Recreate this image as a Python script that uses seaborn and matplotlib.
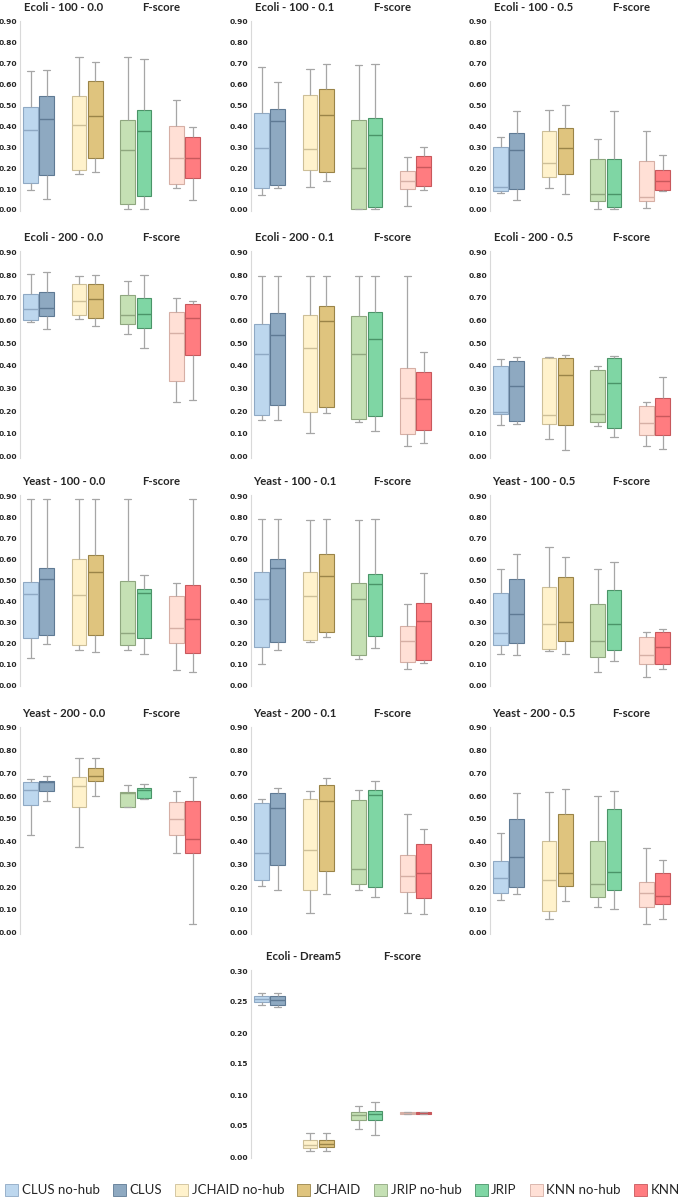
import numpy as np
import pandas as pd
import matplotlib
matplotlib.use("Agg")
import matplotlib.pyplot as plt
import seaborn as sns
from matplotlib.patches import Patch

# ---------------- data: five-number summaries [min, q1, median, q3, max] ----------------
methods = ["CLUS no-hub", "CLUS", "JCHAID no-hub", "JCHAID",
           "JRIP no-hub", "JRIP", "KNN no-hub", "KNN"]

ecoli_100_00 = [[0.095, 0.13, 0.38, 0.49, 0.665], [0.053, 0.165, 0.435, 0.545, 0.67],
                [0.173, 0.19, 0.404, 0.545, 0.73], [0.183, 0.247, 0.45, 0.618, 0.709],
                [0.005, 0.03, 0.285, 0.43, 0.73], [0.005, 0.068, 0.376, 0.476, 0.723],
                [0.103, 0.125, 0.247, 0.403, 0.525], [0.048, 0.154, 0.247, 0.347, 0.398]]
ecoli_100_01 = [[0.07, 0.106, 0.294, 0.465, 0.682], [0.103, 0.118, 0.427, 0.484, 0.61],
                [0.11, 0.19, 0.29, 0.551, 0.672], [0.137, 0.18, 0.452, 0.58, 0.70],
                [0.003, 0.004, 0.203, 0.428, 0.691], [0.004, 0.016, 0.357, 0.441, 0.70],
                [0.019, 0.10, 0.137, 0.185, 0.255], [0.094, 0.113, 0.207, 0.26, 0.30]]
ecoli_100_05 = [[0.08, 0.09, 0.108, 0.30, 0.347], [0.048, 0.10, 0.285, 0.366, 0.471],
                [0.106, 0.156, 0.227, 0.379, 0.48], [0.075, 0.172, 0.294, 0.392, 0.50],
                [0.005, 0.043, 0.075, 0.242, 0.339], [0.005, 0.016, 0.075, 0.245, 0.475],
                [0.01, 0.043, 0.062, 0.235, 0.376], [0.09, 0.095, 0.137, 0.19, 0.261]]
ecoli_200_00 = [[0.593, 0.602, 0.649, 0.718, 0.803], [0.561, 0.62, 0.653, 0.727, 0.815],
                [0.606, 0.624, 0.686, 0.759, 0.794], [0.576, 0.609, 0.695, 0.759, 0.799],
                [0.54, 0.584, 0.624, 0.711, 0.775], [0.48, 0.565, 0.627, 0.699, 0.802],
                [0.239, 0.332, 0.543, 0.639, 0.70], [0.25, 0.448, 0.612, 0.671, 0.686]]
ecoli_200_01 = [[0.16, 0.182, 0.451, 0.586, 0.796], [0.16, 0.228, 0.535, 0.631, 0.796],
                [0.103, 0.195, 0.477, 0.623, 0.796], [0.191, 0.217, 0.596, 0.662, 0.796],
                [0.153, 0.164, 0.451, 0.621, 0.796], [0.113, 0.179, 0.518, 0.639, 0.796],
                [0.048, 0.10, 0.257, 0.391, 0.796], [0.059, 0.116, 0.256, 0.372, 0.461]]
ecoli_200_05 = [[0.14, 0.186, 0.198, 0.401, 0.432], [0.142, 0.159, 0.31, 0.423, 0.44],
                [0.076, 0.142, 0.182, 0.435, 0.438], [0.028, 0.138, 0.358, 0.433, 0.449],
                [0.135, 0.151, 0.186, 0.383, 0.401], [0.088, 0.125, 0.326, 0.436, 0.443],
                [0.047, 0.095, 0.147, 0.225, 0.242], [0.032, 0.094, 0.179, 0.257, 0.349]]
yeast_100_00 = [[0.129, 0.224, 0.433, 0.494, 0.889], [0.195, 0.238, 0.506, 0.559, 0.889],
                [0.167, 0.194, 0.43, 0.60, 0.889], [0.157, 0.24, 0.538, 0.622, 0.889],
                [0.167, 0.194, 0.248, 0.498, 0.889], [0.151, 0.224, 0.44, 0.46, 0.524],
                [0.075, 0.20, 0.273, 0.424, 0.486], [0.062, 0.152, 0.314, 0.476, 0.889]]
yeast_100_01 = [[0.10, 0.184, 0.41, 0.541, 0.794], [0.167, 0.208, 0.557, 0.60, 0.794],
                [0.206, 0.216, 0.425, 0.541, 0.787], [0.229, 0.254, 0.519, 0.627, 0.794],
                [0.124, 0.144, 0.413, 0.489, 0.787], [0.179, 0.235, 0.481, 0.529, 0.794],
                [0.079, 0.111, 0.21, 0.284, 0.389], [0.106, 0.122, 0.308, 0.39, 0.533]]
yeast_100_05 = [[0.151, 0.194, 0.248, 0.441, 0.556], [0.146, 0.20, 0.338, 0.505, 0.624],
                [0.165, 0.175, 0.292, 0.47, 0.657], [0.148, 0.213, 0.303, 0.514, 0.611],
                [0.062, 0.137, 0.21, 0.387, 0.556], [0.116, 0.167, 0.29, 0.456, 0.587],
                [0.038, 0.10, 0.144, 0.232, 0.252], [0.076, 0.103, 0.181, 0.254, 0.27]]
yeast_200_00 = [[0.428, 0.562, 0.625, 0.66, 0.675], [0.578, 0.624, 0.66, 0.668, 0.69],
                [0.378, 0.553, 0.644, 0.684, 0.766], [0.602, 0.668, 0.69, 0.722, 0.766],
                [0.552, 0.552, 0.612, 0.619, 0.65], [0.589, 0.593, 0.625, 0.634, 0.654],
                [0.35, 0.428, 0.499, 0.572, 0.624], [0.037, 0.35, 0.413, 0.577, 0.682]]
yeast_200_01 = [[0.204, 0.23, 0.35, 0.57, 0.589], [0.186, 0.296, 0.548, 0.615, 0.634],
                [0.086, 0.189, 0.365, 0.587, 0.621], [0.168, 0.271, 0.58, 0.649, 0.678],
                [0.186, 0.215, 0.278, 0.584, 0.628], [0.155, 0.199, 0.603, 0.625, 0.668],
                [0.085, 0.177, 0.25, 0.343, 0.523], [0.08, 0.151, 0.261, 0.388, 0.457]]
yeast_200_05 = [[0.143, 0.176, 0.239, 0.313, 0.439], [0.171, 0.202, 0.331, 0.499, 0.612],
                [0.06, 0.097, 0.23, 0.404, 0.619], [0.141, 0.206, 0.261, 0.523, 0.63],
                [0.111, 0.158, 0.214, 0.404, 0.602], [0.102, 0.187, 0.266, 0.545, 0.621],
                [0.04, 0.113, 0.176, 0.224, 0.37], [0.059, 0.126, 0.163, 0.264, 0.321]]
ecoli_dream5 = [[0.245, 0.250, 0.255, 0.260, 0.265], [0.242, 0.245, 0.253, 0.260, 0.265],
                [0.010, 0.014, 0.020, 0.028, 0.038], [0.010, 0.016, 0.021, 0.028, 0.038],
                [0.045, 0.060, 0.068, 0.073, 0.082], [0.035, 0.060, 0.069, 0.075, 0.088],
                [0.069, 0.070, 0.071, 0.072, 0.073], [0.069, 0.070, 0.071, 0.072, 0.073]]

grid_titles = [["Ecoli - 100 - 0.0", "Ecoli - 100 - 0.1", "Ecoli - 100 - 0.5"],
               ["Ecoli - 200 - 0.0", "Ecoli - 200 - 0.1", "Ecoli - 200 - 0.5"],
               ["Yeast - 100 - 0.0", "Yeast - 100 - 0.1", "Yeast - 100 - 0.5"],
               ["Yeast - 200 - 0.0", "Yeast - 200 - 0.1", "Yeast - 200 - 0.5"]]
grid_data = [[ecoli_100_00, ecoli_100_01, ecoli_100_05],
             [ecoli_200_00, ecoli_200_01, ecoli_200_05],
             [yeast_100_00, yeast_100_01, yeast_100_05],
             [yeast_200_00, yeast_200_01, yeast_200_05]]
dream_title = "Ecoli - Dream5"
metric_label = "F-score"

# ---------------- style ----------------
face_colors = ["#BDD7EE", "#8EA9C1", "#FFF2CC", "#DFC47E",
               "#C5E0B4", "#7FD6A4", "#FFE0D6", "#FF7C80"]
edge_colors = ["#8FA9C4", "#5F7A94", "#CDBF98", "#9A8448",
               "#8FA77F", "#4A9468", "#D6AFA5", "#C8585C"]
whisker_color = "#A6A6A6"
spine_color = "#D9D9D9"

slot_order = ["CLUS no-hub", "CLUS", " ", "JCHAID no-hub", "JCHAID", "  ",
              "JRIP no-hub", "JRIP", "   ", "KNN no-hub", "KNN"]

W, H = 685, 1199
fig = plt.figure(figsize=(W / 100, H / 100), dpi=100)
sns.set_style("white")

COL_LEFT = [20, 251, 490]
ROW_Y = [(21.7, 210.0), (252.3, 456.7), (496.3, 685.3), (727.7, 932.7)]
DREAM_LEFT, DREAM_Y = 251, (971.0, 1157.0)
UNIT_PX = 16.2
XLIM = (-0.65, 10.6)
AX_W = (XLIM[1] - XLIM[0]) * UNIT_PX


def make_axes(left_px, ytop_px, ybot_px, vmin, vmax, pad):
    ppu = (ybot_px - ytop_px) / (vmax - vmin)
    top_px = ytop_px - pad * ppu
    bot_px = ybot_px + pad * ppu
    ax = fig.add_axes([left_px / W, 1 - bot_px / H, AX_W / W, (bot_px - top_px) / H])
    ax.set_ylim(vmin - pad, vmax + pad)
    return ax


def draw_panel(ax, summaries, title, vmax, step, title_x=(0.24, 0.775)):
    df = pd.DataFrame([(m, v) for m, five in zip(methods, summaries) for v in five],
                      columns=["method", "value"])
    for m, fc, ec in zip(methods, face_colors, edge_colors):
        sns.boxplot(data=df[df["method"] == m], x="method", y="value", order=slot_order,
                    color=fc, linecolor=ec, saturation=1, width=0.9, whis=(0, 100),
                    linewidth=0.8,
                    whiskerprops=dict(color=whisker_color, linewidth=0.9),
                    capprops=dict(color=whisker_color, linewidth=0.9),
                    medianprops=dict(color=ec, linewidth=1.0),
                    ax=ax)
    ax.set_xlim(*XLIM)
    ticks = np.round(np.arange(0, vmax + step / 2, step), 2)
    ax.set_yticks(ticks)
    ax.set_yticklabels([f"{t:.2f}" for t in ticks], fontsize=5.4, fontweight="bold",
                       family="DejaVu Sans")
    ax.tick_params(axis="y", length=0, pad=2.2)
    ax.set_xticks([])
    ax.set_xlabel("")
    ax.set_ylabel("")
    for s in ["top", "right", "bottom"]:
        ax.spines[s].set_visible(False)
    ax.spines["left"].set_color(spine_color)
    ax.spines["left"].set_linewidth(0.8)
    for txt, xf in [(title, title_x[0]), (metric_label, title_x[1])]:
        ax.annotate(txt, xy=(xf, vmax), xycoords=("axes fraction", "data"),
                    xytext=(0, 10.4), textcoords="offset points", ha="center",
                    va="center", fontsize=8.2, fontweight="bold", family="Lato",
                    annotation_clip=False)


for r in range(4):
    for c in range(3):
        ax = make_axes(COL_LEFT[c], ROW_Y[r][0], ROW_Y[r][1], 0.0, 0.9, 0.005)
        draw_panel(ax, grid_data[r][c], grid_titles[r][c], 0.9, 0.1)

ax = make_axes(DREAM_LEFT, DREAM_Y[0], DREAM_Y[1], 0.0, 0.30, 0.002)
draw_panel(ax, ecoli_dream5, dream_title, 0.30, 0.05, title_x=(0.29, 0.83))

handles = [Patch(facecolor=fc, edgecolor=ec, linewidth=0.6, label=m)
           for m, fc, ec in zip(methods, face_colors, edge_colors)]
fig.legend(handles=handles, loc="center", bbox_to_anchor=(0.5, 1 - 1190 / H), ncol=8,
           frameon=False, handlelength=1.0, handleheight=1.0, handletextpad=0.25,
           columnspacing=1.0, prop=dict(family="Lato", size=9.5))

fig.savefig("out.png", dpi=100)
